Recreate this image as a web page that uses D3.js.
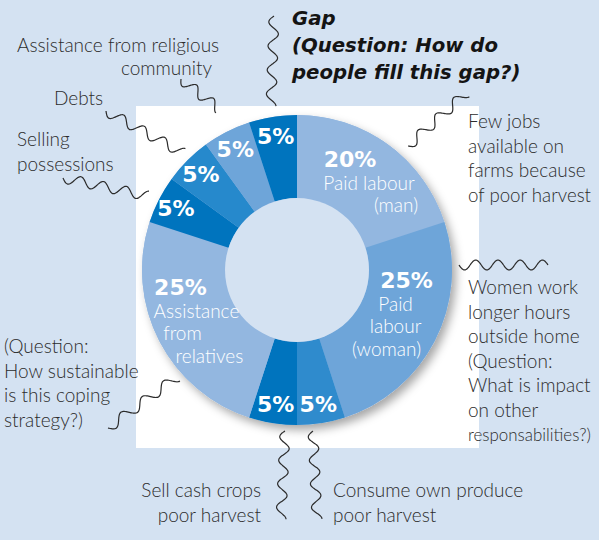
<!DOCTYPE html>
<html>
<head>
<meta charset="utf-8">
<script src="https://cdn.jsdelivr.net/npm/d3@7"></script>
<style>
  body { margin: 0; background: #d4e2f2; }
  svg { display: block; }
  .note { font-family: Lato, "Open Sans", sans-serif; font-weight: 300; font-size: 19px; fill: #2c2c2c; }
</style>
</head>
<body>
<svg id="canvas"></svg>
<script>
// slices, clockwise from 12 o'clock
const categories = ["Paid labour (man)", "Paid labour (woman)", "Consume own produce", "Sell cash crops",
    "Assistance from relatives", "Selling possessions", "Debts", "Assistance from religious community", "Gap"];
const values = [20, 25, 5, 5, 25, 5, 5, 5, 5];
const innerLabels = [["Paid labour", "(man)"], ["Paid", "labour", "(woman)"], [], [],
    ["Assistance", "from", "relatives"], [], [], [], []];
const titleLines = ["Gap", "(Question: How do", "people fill this gap?)"];

const sliceColors = ["#93b7e0", "#6ea5d9", "#2f8bcd", "#0074be", "#93b7e0", "#0074be", "#2689cc", "#6ea5d9", "#0074be"];

// small per-line shifts of the big inner labels, relative to the slice centroid
const labelShift = {
    "Paid labour (man)": { dx: [-14, 5, 32], dy: 4 },
    "Paid labour (woman)": { dx: [8, -3, -3, -12], dy: -8 },
    "Assistance from relatives": { dx: [-15, 1, -13, 14], dy: -1 }
};

// notes round the chart
const notes = [
    { lines: ["Assistance from religious"], x: 17, y: 52, anchor: "start" },
    { lines: ["community"], x: 212, y: 75, anchor: "end" },
    { lines: ["Debts"], x: 54, y: 105, anchor: "start" },
    { lines: ["Selling", "possessions"], x: 17, y: 146, anchor: "start" },
    { lines: ["Few jobs", "available on", "farms because", "of poor harvest"], x: 468, y: 128, anchor: "start" },
    { lines: ["Women work", "longer hours", "outside home", "(Question:", "What is impact", "on other", "responsabilities?)"], x: 468, y: 294, anchor: "start" },
    { lines: ["(Question:", "How sustainable", "is this coping", "strategy?)"], x: 4, y: 353, anchor: "start" },
    { lines: ["Sell cash crops", "poor harvest"], x: 261, y: 497, anchor: "end" },
    { lines: ["Consume own produce", "poor harvest"], x: 333, y: 497, anchor: "start" }
];
const squiggles = [
    { from: [274, 16], to: [271, 106], waves: 3.75 },
    { from: [181, 79], to: [219, 109], waves: 2.25 },
    { from: [106, 111], to: [183, 153], waves: 3.75 },
    { from: [63, 178], to: [148, 196], waves: 3.75 },
    { from: [408, 146], to: [466, 93], waves: 3.25 },
    { from: [459, 265], to: [548, 265], waves: 4 },
    { from: [108, 428], to: [177, 377], waves: 3.25 },
    { from: [285, 431], to: [281, 519], waves: 3.75 },
    { from: [313, 431], to: [317, 519], waves: 3.75 }
];

const width = 599, height = 540;
const cx = 297, cy = 270, outerR = 155, innerR = 72;

const svg = d3.select("#canvas").attr("width", width).attr("height", height);

const defs = svg.append("defs");
defs.append("filter").attr("id", "shadow")
    .attr("x", "-20%").attr("y", "-20%").attr("width", "140%").attr("height", "140%")
    .append("feDropShadow")
    .attr("dx", 4).attr("dy", 5).attr("stdDeviation", 5)
    .attr("flood-color", "#000").attr("flood-opacity", 0.35);

svg.append("rect").attr("width", width).attr("height", height).attr("fill", "#d4e2f2");
svg.append("rect").attr("x", 136).attr("y", 106).attr("width", 343).attr("height", 342).attr("fill", "#ffffff");

const color = d3.scaleOrdinal().domain(categories).range(sliceColors);
const pie = d3.pie().sort(null).value(d => d.value);
const arc = d3.arc().innerRadius(innerR).outerRadius(outerR);
const bigLabelArc = d3.arc().innerRadius(114).outerRadius(114);
const smallLabelArc = d3.arc().innerRadius(136).outerRadius(136);

const data = categories.map((c, i) => ({ name: c, value: values[i], lines: innerLabels[i] }));
const arcs = pie(data);

const g = svg.append("g").attr("transform", "translate(" + cx + "," + cy + ")");

g.append("circle").attr("r", outerR).attr("fill", "#93b7e0").attr("filter", "url(#shadow)");

g.selectAll("path.slice")
    .data(arcs)
    .enter()
    .append("path")
    .attr("class", "slice")
    .attr("d", arc)
    .attr("fill", d => color(d.data.name));

g.append("circle").attr("r", innerR).attr("fill", "#d4e2f2");

// percentage + name labels inside the ring
arcs.forEach(d => {
    const pct = d.data.value + "%";
    if (d.data.lines.length === 0) {
        const [x, y] = smallLabelArc.centroid(d);
        g.append("text")
            .attr("x", x).attr("y", y + 8)
            .attr("text-anchor", "middle")
            .style("font-family", "'DejaVu Sans', sans-serif")
            .style("font-weight", "bold")
            .style("font-size", "22px")
            .attr("fill", "#fff")
            .text(pct);
    } else {
        const [x, y] = bigLabelArc.centroid(d);
        const shift = labelShift[d.data.name];
        const all = [pct].concat(d.data.lines);
        const step = 22.5;
        const top = y - (all.length - 1) * step / 2 + 8 + shift.dy;
        all.forEach((line, i) => {
            g.append("text")
                .attr("x", x + shift.dx[i]).attr("y", top + i * step)
                .attr("text-anchor", "middle")
                .style("font-family", i === 0 ? "'DejaVu Sans', sans-serif" : "Lato, sans-serif")
                .style("font-weight", i === 0 ? "bold" : "300")
                .style("font-size", i === 0 ? "22px" : "19px")
                .attr("fill", "#fff")
                .text(line);
        });
    }
});

// wavy connectors
const wave = (s) => {
    const [x0, y0] = s.from, [x1, y1] = s.to;
    const dx = x1 - x0, dy = y1 - y0, len = Math.hypot(dx, dy);
    const nx = -dy / len, ny = dx / len;
    return d3.range(0, 121).map(k => {
        const t = k / 120;
        const off = 5 * Math.sin(2 * Math.PI * s.waves * t);
        return [x0 + dx * t + nx * off, y0 + dy * t + ny * off];
    });
};
svg.selectAll("path.wave")
    .data(squiggles)
    .enter()
    .append("path")
    .attr("class", "wave")
    .attr("d", s => d3.line().curve(d3.curveBasis)(wave(s)))
    .attr("fill", "none")
    .attr("stroke", "#2b2b2b")
    .attr("stroke-width", 1.2);

// notes; a line that would run off the right edge gets a smaller font
notes.forEach(n => {
    n.lines.forEach((line, i) => {
        const t = svg.append("text").attr("class", "note").attr("text-anchor", n.anchor)
            .attr("x", n.x).attr("y", n.y + i * 24.5).text(line);
        const w = t.node().getComputedTextLength();
        const room = width - 8 - n.x;
        if (n.anchor === "start" && w > room) {
            t.style("font-size", (19 * room / w).toFixed(2) + "px");
        }
    });
});

// title
const title = svg.append("text")
    .style("font-family", "'DejaVu Sans', sans-serif")
    .style("font-weight", "bold")
    .style("font-style", "italic")
    .style("font-size", "19.7px")
    .attr("fill", "#141414");
titleLines.forEach((line, i) => {
    title.append("tspan").attr("x", 292).attr("y", 25 + i * 27).text(line);
});
</script>
</body>
</html>
